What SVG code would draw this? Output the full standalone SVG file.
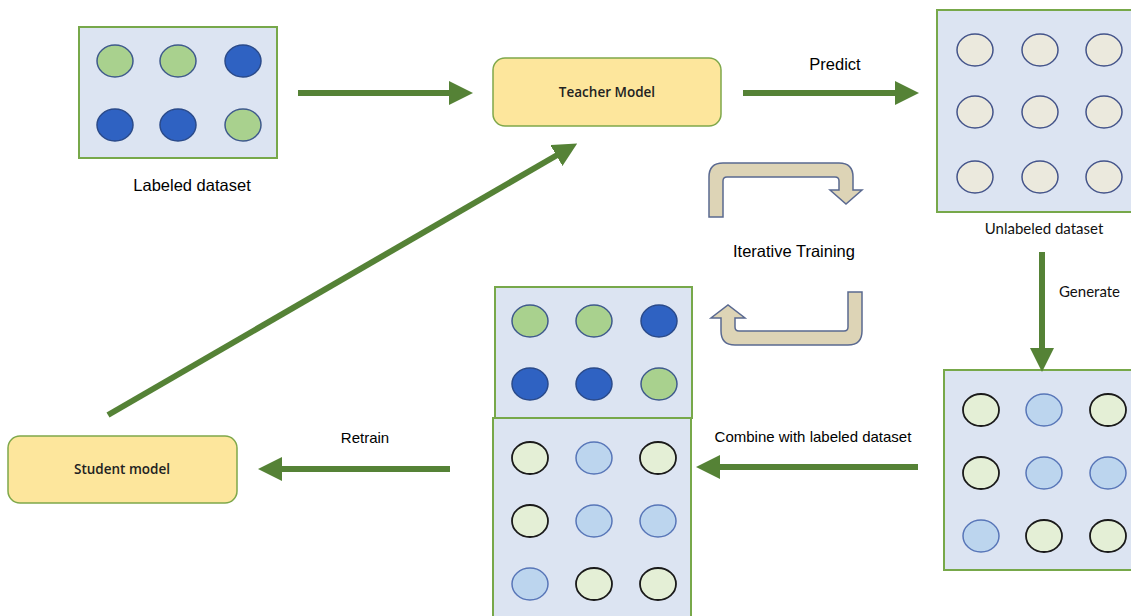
<svg xmlns="http://www.w3.org/2000/svg" width="1131" height="616" viewBox="0 0 1131 616">
<style>
.box{fill:#dce4f2;stroke:#77a84a;stroke-width:2}
.model{fill:#fde69c;stroke:#7fa84a;stroke-width:1.5}
.g{fill:#a9d18e;stroke:#3f5a8c;stroke-width:1.5}
.b{fill:#2f62c2;stroke:#2a4a8a;stroke-width:1.5}
.u{fill:#ebe9dd;stroke:#44548a;stroke-width:1.5}
.lg{fill:#e4efd6;stroke:#1a1a1a;stroke-width:1.8}
.lb{fill:#bcd5ee;stroke:#5876b8;stroke-width:1.5}
.conn{stroke:#558236;stroke-width:6;fill:none}
.t1{font-family:"Liberation Sans",Arial,sans-serif;font-size:16.5px;fill:#000}
.t3{font-family:"Liberation Sans",Arial,sans-serif;font-size:15px;fill:#000}
.t2{font-family:Lato,"Open Sans",sans-serif;font-size:15px;fill:#111}
.tm{font-family:"Open Sans",Lato,sans-serif;font-size:13.5px;font-weight:600;fill:#222}
.loop{fill:#ddd4b6;stroke:#5a6990;stroke-width:1.5}
</style>
<defs>
<marker id="ah" markerWidth="4" markerHeight="4" refX="0.5" refY="2" orient="auto" markerUnits="strokeWidth">
<path d="M0,0 L4,2 L0,4 Z" fill="#558236"/>
</marker>
</defs>

<g id="labeled-dataset">
<rect class="box" x="79" y="27" width="198" height="131"/>
<ellipse class="g" cx="115" cy="61" rx="18" ry="16"/>
<ellipse class="g" cx="178" cy="61" rx="18" ry="16"/>
<ellipse class="b" cx="243" cy="61" rx="18" ry="16"/>
<ellipse class="b" cx="115" cy="125" rx="18" ry="16"/>
<ellipse class="b" cx="178" cy="125" rx="18" ry="16"/>
<ellipse class="g" cx="243" cy="125" rx="18" ry="16"/>
<text class="t1" x="192" y="191" text-anchor="middle">Labeled dataset</text>
</g>

<g id="teacher-model">
<rect class="model" x="493" y="58" width="228" height="68" rx="12"/>
<text class="tm" x="607" y="97" text-anchor="middle">Teacher Model</text>
</g>

<g id="unlabeled-dataset">
<rect class="box" x="937" y="10" width="200" height="202"/>
<ellipse class="u" cx="975" cy="50" rx="18" ry="16"/>
<ellipse class="u" cx="1040" cy="50" rx="18" ry="16"/>
<ellipse class="u" cx="1104" cy="50" rx="18" ry="16"/>
<ellipse class="u" cx="975" cy="112" rx="18" ry="16"/>
<ellipse class="u" cx="1040" cy="112" rx="18" ry="16"/>
<ellipse class="u" cx="1104" cy="112" rx="18" ry="16"/>
<ellipse class="u" cx="975" cy="177" rx="18" ry="16"/>
<ellipse class="u" cx="1040" cy="177" rx="18" ry="16"/>
<ellipse class="u" cx="1104" cy="177" rx="18" ry="16"/>
<text class="t2" x="1044" y="234" text-anchor="middle">Unlabeled dataset</text>
</g>

<g id="pseudo-labeled-dataset">
<rect class="box" x="944" y="370" width="193" height="200"/>
<ellipse class="lg" cx="981" cy="410" rx="18" ry="16"/>
<ellipse class="lb" cx="1044" cy="410" rx="18" ry="16"/>
<ellipse class="lg" cx="1108" cy="410" rx="18" ry="16"/>
<ellipse class="lg" cx="981" cy="473" rx="18" ry="16"/>
<ellipse class="lb" cx="1044" cy="473" rx="18" ry="16"/>
<ellipse class="lb" cx="1108" cy="473" rx="18" ry="16"/>
<ellipse class="lb" cx="981" cy="536" rx="18" ry="16"/>
<ellipse class="lg" cx="1044" cy="536" rx="18" ry="16"/>
<ellipse class="lg" cx="1108" cy="536" rx="18" ry="16"/>
</g>

<g id="combined-dataset">
<rect class="box" x="495" y="287" width="197" height="131"/>
<ellipse class="g" cx="530" cy="321" rx="18" ry="16"/>
<ellipse class="g" cx="594" cy="321" rx="18" ry="16"/>
<ellipse class="b" cx="659" cy="321" rx="18" ry="16"/>
<ellipse class="b" cx="530" cy="384" rx="18" ry="16"/>
<ellipse class="b" cx="594" cy="384" rx="18" ry="16"/>
<ellipse class="g" cx="659" cy="384" rx="18" ry="16"/>
<rect class="box" x="493" y="418" width="198" height="200"/>
<ellipse class="lg" cx="530" cy="458" rx="18" ry="16"/>
<ellipse class="lb" cx="594" cy="458" rx="18" ry="16"/>
<ellipse class="lg" cx="658" cy="458" rx="18" ry="16"/>
<ellipse class="lg" cx="530" cy="521" rx="18" ry="16"/>
<ellipse class="lb" cx="594" cy="521" rx="18" ry="16"/>
<ellipse class="lb" cx="658" cy="521" rx="18" ry="16"/>
<ellipse class="lb" cx="530" cy="584" rx="18" ry="16"/>
<ellipse class="lg" cx="594" cy="584" rx="18" ry="16"/>
<ellipse class="lg" cx="658" cy="584" rx="18" ry="16"/>
</g>

<g id="student-model">
<rect class="model" x="8" y="436" width="229" height="67" rx="12"/>
<text class="tm" x="122" y="474" text-anchor="middle">Student model</text>
</g>

<g id="iterative-training">
<path class="loop" d="M709,217 L709,177 Q709,163 723,163 L839,163 Q853,163 853,177 L853,190 L862,190 L846,204 L830,190 L839,190 L839,181 Q839,177 835,177 L727,177 Q723,177 723,181 L723,217 Z"/>
<path class="loop" d="M848,292 L862,292 L862,331 Q862,345 848,345 L735,345 Q721,345 721,331 L721,318 L711,318 L728,305 L745,318 L735,318 L735,327 Q735,331 739,331 L844,331 Q848,331 848,327 Z"/>
<text class="t1" x="794" y="257" text-anchor="middle">Iterative Training</text>
</g>

<g id="connectors">
<line class="conn" x1="298" y1="93" x2="452" y2="93" marker-end="url(#ah)"/>
<line class="conn" x1="743" y1="93" x2="898" y2="93" marker-end="url(#ah)"/>
<line class="conn" x1="1042" y1="252" x2="1042" y2="351" marker-end="url(#ah)"/>
<line class="conn" x1="918" y1="467" x2="717" y2="467" marker-end="url(#ah)"/>
<line class="conn" x1="450" y1="469" x2="279" y2="469" marker-end="url(#ah)"/>
<line class="conn" x1="108" y1="415" x2="559" y2="154" marker-end="url(#ah)"/>
<text class="t1" x="835" y="70" text-anchor="middle">Predict</text>
<text class="t2" x="1059" y="297">Generate</text>
<text class="t3" x="813" y="442" text-anchor="middle">Combine with labeled dataset</text>
<text class="t3" x="365" y="443" text-anchor="middle">Retrain</text>
</g>
</svg>
